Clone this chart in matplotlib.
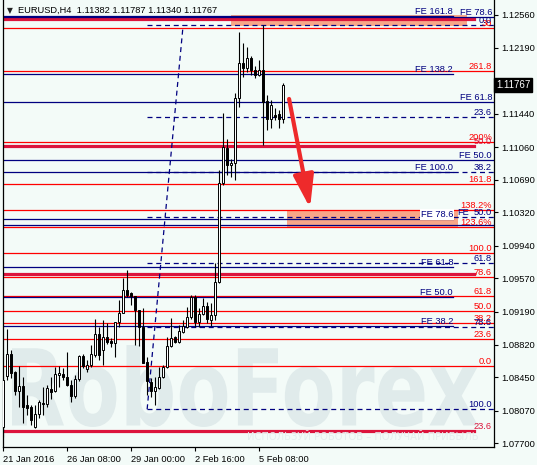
import matplotlib
matplotlib.use("Agg")
import matplotlib.pyplot as plt
from matplotlib.patches import Rectangle, FancyArrowPatch, PathPatch
from matplotlib.textpath import TextPath
from matplotlib.font_manager import FontProperties
from matplotlib.transforms import Affine2D, IdentityTransform, blended_transform_factory

W, H = 537, 465
BG = "#F3FBF8"
RED, CRIMSON, NAVY = "#FF0000", "#DC143C", "#000080"
SALMON = "#F7A688"
WM = "#E0EBEB"
FS = 6.7

plt.rcParams["font.family"] = ["Liberation Sans", "DejaVu Sans"]

# ---------------------------------------------------------------------------
# EURUSD H4 candles (bar 0 = 21 Jan 2016 16:00)
# ---------------------------------------------------------------------------
opens = [1.07885, 1.08464, 1.08713, 1.08509, 1.08293, 1.08350, 1.08135, 1.08112, 1.07885, 1.08032,
         1.08157, 1.08146, 1.08316, 1.08293, 1.08475, 1.08486, 1.08452, 1.08361, 1.08237, 1.08430,
         1.08691, 1.08543, 1.08588, 1.08702, 1.08940, 1.08759, 1.08906, 1.08861, 1.08838, 1.09076,
         1.09178, 1.09439, 1.09405, 1.09371, 1.09212, 1.09020, 1.08622, 1.08395, 1.08293, 1.08327,
         1.08452, 1.08566, 1.08804, 1.08906, 1.08849, 1.08963, 1.09020, 1.09133, 1.09360, 1.09076,
         1.09167, 1.09258, 1.09099, 1.09156, 1.09530, 1.10654, 1.11051, 1.10858, 1.10880, 1.11618,
         1.12015, 1.11958, 1.12072, 1.11936, 1.11879, 1.11936, 1.11584, 1.11380, 1.11425, 1.11436,
         1.11382]
highs = [1.08464, 1.08997, 1.08759, 1.08520, 1.08577, 1.08452, 1.08248, 1.08135, 1.08135, 1.08191,
         1.08339, 1.08361, 1.08452, 1.08566, 1.08577, 1.08554, 1.08736, 1.08418, 1.08475, 1.08702,
         1.08713, 1.08645, 1.08815, 1.09110, 1.09020, 1.09099, 1.09065, 1.08895, 1.09076, 1.09326,
         1.09576, 1.09666, 1.09417, 1.09371, 1.09212, 1.09235, 1.08679, 1.08441, 1.08452, 1.08566,
         1.08588, 1.08906, 1.09122, 1.08917, 1.09042, 1.09099, 1.09247, 1.09383, 1.09383, 1.09235,
         1.09349, 1.09303, 1.09292, 1.09746, 1.10801, 1.11448, 1.11153, 1.10926, 1.11675, 1.12367,
         1.12242, 1.12197, 1.12095, 1.11981, 1.12049, 1.12446, 1.11652, 1.11595, 1.11505, 1.11482,
         1.11787]
lows = [1.07771, 1.08418, 1.08441, 1.08248, 1.08112, 1.07930, 1.08021, 1.07908, 1.07874, 1.07987,
        1.08021, 1.08112, 1.08203, 1.08282, 1.08339, 1.08418, 1.08350, 1.08169, 1.08214, 1.08407,
        1.08554, 1.08509, 1.08566, 1.08679, 1.08645, 1.08588, 1.08827, 1.08793, 1.08679, 1.09020,
        1.09178, 1.09360, 1.09269, 1.08815, 1.08804, 1.08611, 1.08248, 1.08225, 1.08135, 1.08316,
        1.08441, 1.08554, 1.08793, 1.08838, 1.08838, 1.08951, 1.09008, 1.09110, 1.09020, 1.09020,
        1.09156, 1.09065, 1.09031, 1.09099, 1.09519, 1.10631, 1.10744, 1.10722, 1.10688, 1.11516,
        1.11856, 1.11913, 1.11879, 1.11845, 1.11868, 1.11085, 1.11255, 1.11278, 1.11368, 1.11278,
        1.11340]
closes = [1.08418, 1.08713, 1.08498, 1.08293, 1.08350, 1.08112, 1.08100, 1.07964, 1.08032, 1.08169,
          1.08146, 1.08327, 1.08282, 1.08486, 1.08498, 1.08452, 1.08361, 1.08237, 1.08430, 1.08691,
          1.08577, 1.08588, 1.08713, 1.08940, 1.08702, 1.08906, 1.08849, 1.08838, 1.09076, 1.09178,
          1.09439, 1.09383, 1.09371, 1.09212, 1.09020, 1.08611, 1.08407, 1.08293, 1.08339, 1.08452,
          1.08566, 1.08804, 1.08895, 1.08849, 1.08974, 1.09031, 1.09133, 1.09360, 1.09076, 1.09167,
          1.09258, 1.09110, 1.09156, 1.09530, 1.10654, 1.11062, 1.10858, 1.10880, 1.11618, 1.12015,
          1.11958, 1.12072, 1.11936, 1.11879, 1.11936, 1.11573, 1.11380, 1.11539, 1.11402, 1.11380,
          1.11767]

# time axis
xtick_bars = [0, 16, 32, 48, 64]
xtick_labels = ["21 Jan 2016", "26 Jan 08:00", "29 Jan 00:00", "2 Feb 16:00", "5 Feb 08:00"]
ytick_values = [1.12560, 1.12190, 1.11440, 1.11060, 1.10690, 1.10320, 1.09940,
                1.09570, 1.09190, 1.08820, 1.08450, 1.08070, 1.07700]

# Fibonacci extension levels (red thin lines)
red_levels = [1.12409, 1.11925, 1.11122, 1.10639, 1.10347, 1.10151, 1.09856,
              1.09584, 1.09372, 1.09205, 1.09062, 1.08884, 1.08577]
red_labels = ["30", "261.8", "200%", "161.8", "138.2%", "123.6%", "100.0",
              "78.6", "61.8", "50.0", "38.2", "23.6", "0.0"]
# thick crimson levels
crimson_levels = [1.12515, 1.11074, 1.09618, 1.07840]
crimson_labels = ["", "50.0", "", "23.6"]
# Fibonacci expansion (navy solid lines)
fe_levels = [1.12540, 1.12552, 1.11887, 1.11569, 1.10915, 1.10784, 1.10242,
             1.10174, 1.09697, 1.09357, 1.09031]
fe_labels = ["FE 78.6", "FE 161.8", "FE 138.2", "FE 61.8", "FE 50.0", "FE 100.0",
             "FE 78.6", "", "FE 61.8", "FE 50.0", "FE 38.2"]
fe_full = [True, False, False, True, True, False, False, True, False, False, False]
# Fibonacci retracement (navy dashed), anchored between two bars
fib_levels = [1.12446, 1.11406, 1.10775, 1.10264, 1.09743, 1.09016, 1.08086]
fib_labels = ["0.0", "23.6", "38.2", "50.0", "61.8", "78.6", "100.0"]
fib_anchor = (36, 45)

# zones and forecast arrow
zones = [(57, 116, 1.12435, 1.12560), (71, 113.75, 1.10151, 1.10347)]
arrow_from = (71.5, 1.11607)
arrow_to = (76.75, 1.10370)
last_price = closes[-1]

# ---------------------------------------------------------------------------
fig = plt.figure(figsize=(W / 100, H / 100), dpi=100, facecolor=BG)
ax = fig.add_axes([3 / W, 18 / H, 491 / W, 447 / H], facecolor=BG)
XMAX = 122.75
ax.set_xlim(-0.05, XMAX)
ax.set_ylim(1.07658, 1.12730)
X_LABEL = 122.25     # right end of level labels
X_SHORT = 112.5      # where the short navy lines stop
X_CRIM = 117.75

# watermark
tp = TextPath((0, 0), "RoboForex", size=100,
              prop=FontProperties(family="DejaVu Sans", weight="bold"))
bb = tp.get_extents()
x0, x1, ytop, ybot = 12, 478, 345, 427
tr = (Affine2D().translate(-bb.x0, -bb.y0)
      .scale((x1 - x0) / bb.width, (ybot - ytop) / bb.height)
      .translate(x0, H - ybot))
ax.add_patch(PathPatch(tr.transform_path(tp), transform=IdentityTransform(),
                       facecolor=WM, edgecolor="none", zorder=0.5, clip_on=False))
fig.text(363 / W, 1 - 437 / H, "ИСПОЛЬЗУЙ РОБОТОВ – ПОЛУЧАЙ ПРИБЫЛЬ",
         fontsize=7.2, color="#E4EEEE", ha="center", va="center",
         family="DejaVu Sans", zorder=0.5)

# zones
for xa, xb, ya, yb in zones:
    ax.add_patch(Rectangle((xa, ya), xb - xa, yb - ya, facecolor=SALMON,
                           edgecolor="none", zorder=1))

# red levels
for lv, lb in zip(red_levels, red_labels):
    ax.plot([0, XMAX], [lv, lv], color=RED, lw=0.9, zorder=2)
    ax.text(X_LABEL, lv, lb, color=RED, fontsize=FS, ha="right", va="bottom", zorder=4)

for lv, lb in zip(crimson_levels, crimson_labels):
    ax.plot([0, X_CRIM], [lv, lv], color=CRIMSON, lw=2.3, zorder=2.2)
    if lb:
        ax.text(X_LABEL, lv, lb, color=CRIMSON, fontsize=FS, ha="right", va="bottom", zorder=4)

for lv, lb, full in zip(fe_levels, fe_labels, fe_full):
    xe = XMAX if full else X_SHORT
    ax.plot([0, xe], [lv, lv], color=NAVY, lw=0.9, zorder=2.4)
    if not lb:
        continue
    xt = X_LABEL if full else X_SHORT
    box = None
    if lb == "FE 78.6" and not full:
        box = dict(facecolor="white", edgecolor="none", pad=0.6)
    ax.text(xt, lv, lb, color=NAVY, fontsize=FS, ha="right", va="bottom",
            zorder=4, bbox=box)

fa, fb = fib_anchor
for lv, lb in zip(fib_levels, fib_labels):
    ax.plot([fa, XMAX], [lv, lv], color=NAVY, lw=0.9, ls=(0, (4, 3)), zorder=2.5)
    ax.text(X_LABEL, lv, lb, color=NAVY, fontsize=FS, ha="right", va="bottom", zorder=4)
ax.text(116.6, fib_levels[3], "FE", color=NAVY, fontsize=FS, ha="right", va="bottom", zorder=4)
ax.plot([fa, fb], [fib_levels[-1], fib_levels[0]], color=NAVY, lw=0.9,
        ls=(0, (4, 3)), zorder=2.5)

# candles
for i, (o, h, l, c) in enumerate(zip(opens, highs, lows, closes)):
    ax.plot([i, i], [l, h], color="black", lw=0.8, zorder=3, solid_capstyle="butt")
    lo, hi = min(o, c), max(o, c)
    if hi - lo < 0.00004:
        hi = lo + 0.00004
    ax.add_patch(Rectangle((i - 0.27, lo), 0.54, hi - lo,
                           facecolor="white" if c >= o else "black",
                           edgecolor="black", lw=0.7, zorder=3.1))

# forecast arrow
ax.add_patch(FancyArrowPatch(arrow_from, arrow_to,
                             arrowstyle="-|>,head_length=2.0,head_width=0.62",
                             mutation_scale=10, color="#EE2A2B", lw=3.0,
                             shrinkA=0, shrinkB=0, zorder=5))

# axes styling
ax.spines["top"].set_visible(False)
for s in ["left", "right", "bottom"]:
    ax.spines[s].set_linewidth(0.9)
ax.yaxis.tick_right()
ax.set_yticks(ytick_values)
ax.set_yticklabels([f"{v:.5f}" for v in ytick_values])
ax.tick_params(axis="y", length=3, width=0.8, labelsize=FS, pad=2)
ax.set_xticks(xtick_bars)
ax.set_xticklabels(xtick_labels)
ax.tick_params(axis="x", length=3, width=0.8, labelsize=FS, pad=3)
for t in ax.get_xticklabels():
    t.set_ha("left")

# current price tag
tag = blended_transform_factory(ax.transAxes, ax.transData)
ax.text(1.004, last_price, f"{last_price:.5f}", transform=tag, color="white",
        fontsize=FS + 0.3, ha="left", va="center", clip_on=False, zorder=6,
        bbox=dict(facecolor="black", edgecolor="black", pad=1.6))

# title
fig.text(7 / W, 1 - 11 / H, "▼", fontsize=5.5, ha="left", va="center",
         family="DejaVu Sans", color="#222222")
fig.text(18 / W, 1 - 10.5 / H,
         f"EURUSD,H4  {opens[-1]:.5f} {highs[-1]:.5f} {lows[-1]:.5f} {closes[-1]:.5f}",
         fontsize=FS, ha="left", va="center", color="black")

fig.savefig("out.png", dpi=100, facecolor=BG)
